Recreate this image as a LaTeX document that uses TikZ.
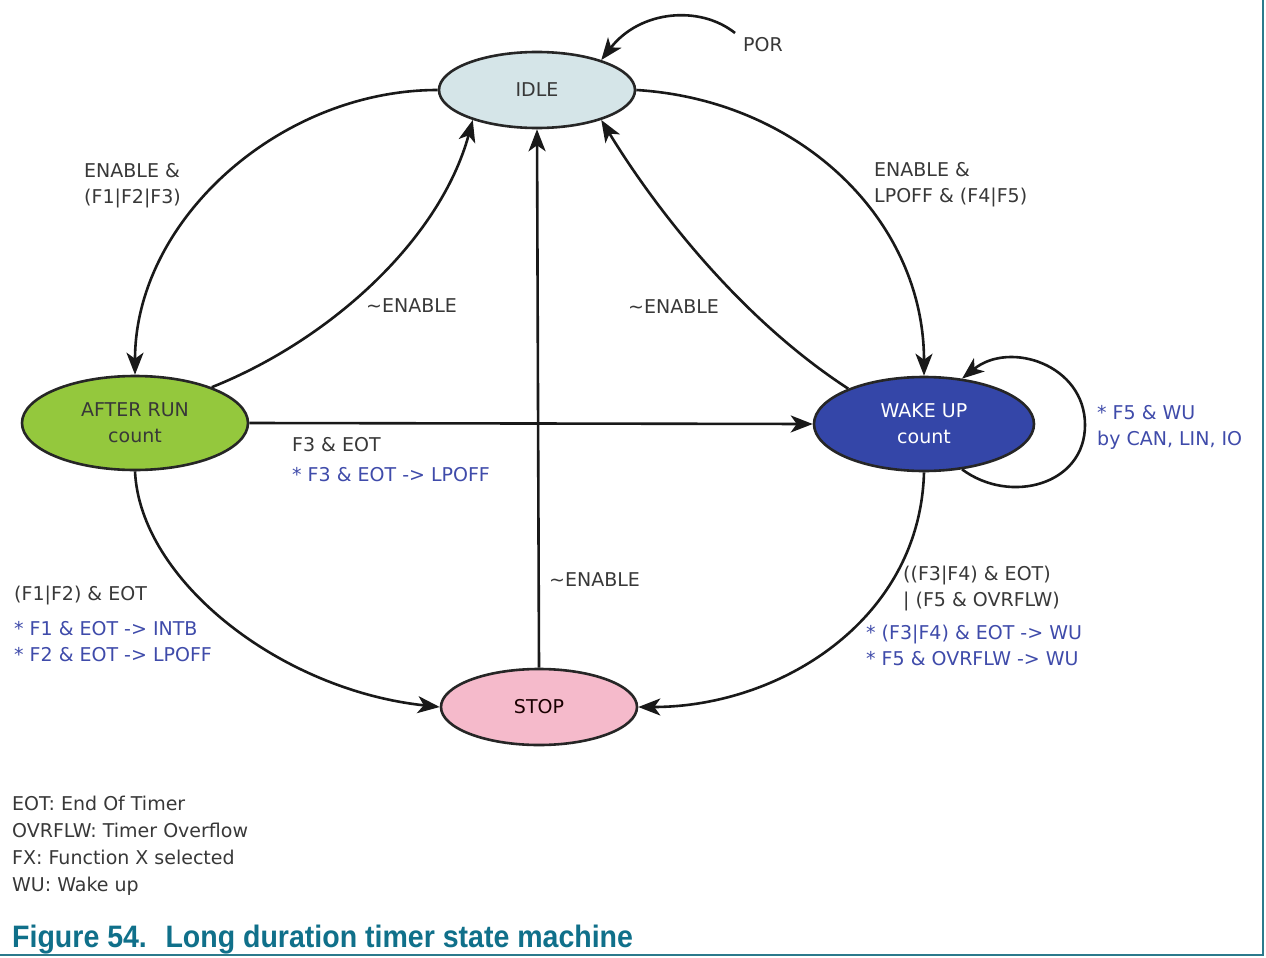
\documentclass[tikz,border=0pt]{standalone}
\usepackage{fontspec}
\setmainfont{DejaVu Sans}
\newfontfamily\capfont[FakeStretch=0.92]{Liberation Sans}
\usetikzlibrary{shapes.geometric,arrows.meta}
\definecolor{idlefill}{HTML}{D5E5E8}
\definecolor{afterfill}{HTML}{94C83D}
\definecolor{wakefill}{HTML}{3446A8}
\definecolor{stopfill}{HTML}{F5BACB}
\definecolor{lblblue}{HTML}{3F4BAA}
\definecolor{lblgray}{HTML}{383838}
\definecolor{capteal}{HTML}{10708A}
\definecolor{frameteal}{HTML}{2B7A8C}
\begin{document}
\begin{tikzpicture}[x=1pt,y=-1pt,
  font=\fontsize{19}{26}\selectfont,
  state/.style={ellipse,draw=black!85,line width=2.6pt,inner sep=0pt,align=center,text=lblgray},
  arr/.style={line width=2.6pt,draw=black!90,-{Stealth[length=22pt,width=17pt,inset=6pt]}},
  glabel/.style={anchor=base west,inner sep=0pt,text=lblgray,align=left},
  blabel/.style={anchor=base west,inner sep=0pt,text=lblblue,align=left}]
\useasboundingbox (0,0) rectangle (1266,958);
\fill[white] (0,0) rectangle (1266,958);
% states
\node[state,fill=idlefill,minimum width=196pt,minimum height=76pt] (idle) at (537,90) {IDLE};
\node[state,fill=afterfill,minimum width=226pt,minimum height=94pt] (after) at (135,423) {AFTER RUN\\count};
\node[state,fill=wakefill,minimum width=220pt,minimum height=94pt,text=white] (wake) at (924,424) {WAKE UP\\count};
\node[state,fill=stopfill,minimum width=196pt,minimum height=76pt,text=black!75!red!40!black] (stop) at (539,707) {STOP};
% POR
\coordinate (por) at (735,33);
\draw[arr] (por) .. controls (700,5) and (640,10) .. (idle.25);
\node[glabel] (porl) at (743,52) {POR};
% IDLE -> AFTER RUN
\draw[arr] (idle.west) .. controls (280,90) and (135,220) .. (after.north);
\node[glabel] (l1) at (84,203) {ENABLE \&\\(F1|F2|F3)};
% AFTER RUN -> IDLE
\draw[arr] (after.25) .. controls (330,340) and (440,240) .. (idle.205);
\node[glabel] (l2) at (366,312) {\textasciitilde ENABLE};
% STOP -> IDLE
\draw[arr] (stop.north) -- (idle.south);
\node[glabel] (l3) at (549,586) {\textasciitilde ENABLE};
% WAKE -> IDLE
\draw[arr] (wake.155) .. controls (735,315) and (650,200) .. (idle.-25);
\node[glabel] (l4) at (628,313) {\textasciitilde ENABLE};
% IDLE -> WAKE
\draw[arr] (idle.east) .. controls (800,100) and (924,220) .. (wake.north);
\node[glabel] (l5) at (874,202) {ENABLE \&\\LPOFF \& (F4|F5)};
% AFTER -> WAKE
\draw[arr] (after.east) -- (wake.west);
\node[glabel] (l6) at (292,451) {F3 \& EOT};
\node[blabel] (l6b) at (292,481) {* F3 \& EOT -> LPOFF};
% WAKE self loop
\draw[arr] (wake.-50) .. controls (1010,505) and (1085,485) .. (1085,425) .. controls (1085,365) and (1010,340) .. (wake.50);
\node[blabel] (l7) at (1097,445) {* F5 \& WU\\by CAN, LIN, IO};
% AFTER -> STOP
\draw[arr] (after.south) .. controls (140,580) and (280,690) .. (stop.west);
\node[glabel] (l8) at (14,600) {(F1|F2) \& EOT};
\node[blabel] (l8b) at (14,661) {* F1 \& EOT -> INTB\\* F2 \& EOT -> LPOFF};
% WAKE -> STOP
\draw[arr] (wake.south) .. controls (920,620) and (780,707) .. (stop.east);
\node[glabel] (l9) at (903,606) {((F3|F4) \& EOT)\\| (F5 \& OVRFLW)};
\node[blabel] (l9b) at (866,665) {* (F3|F4) \& EOT -> WU\\* F5 \& OVRFLW -> WU};
% legend
\node[glabel,font=\fontsize{19}{27}\selectfont] (leg) at (12,891) {EOT: End Of Timer\\OVRFLW: Timer Overflow\\FX: Function X selected\\WU: Wake up};
% caption
\node[anchor=base west,inner sep=0pt,text=capteal,font=\capfont\bfseries\fontsize{31}{32}\selectfont] (cap) at (12,947) {Figure 54.\hspace{0.6em}Long duration timer state machine};
% frame
\draw[frameteal,line width=2pt] (1263,0) -- (1263,955) -- (0,955);
\end{tikzpicture}
\end{document}
